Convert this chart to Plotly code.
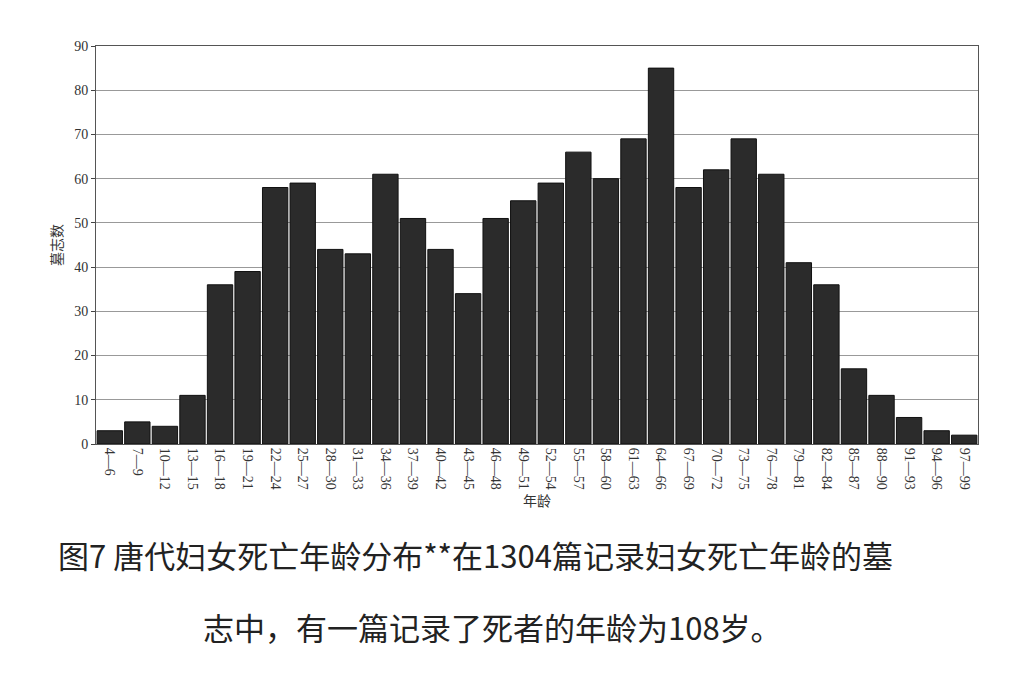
import plotly.graph_objects as go

starts = list(range(4, 98, 3))
categories = [f"{s}—{s+2}" for s in starts]
counts = [3,5,4,11,36,39,58,59,44,43,61,51,44,34,51,55,59,66,60,69,85,58,62,69,61,41,36,17,11,6,3,2]
yticks = list(range(0, 91, 10))

fig = go.Figure(go.Bar(x=categories, y=counts, marker=dict(color="#2b2b2b", line=dict(color="#111", width=1)), width=0.92))
serif = "Liberation Serif, DejaVu Serif, serif"
fig.update_layout(
    width=1024, height=694, paper_bgcolor="white", plot_bgcolor="white",
    margin=dict(l=88, r=54, t=38, b=258), showlegend=False,
    font=dict(family=serif, color="#333", size=14),
    xaxis=dict(tickangle=90, showline=True, linecolor="#555", mirror=True, ticks="",
               title=dict(text="年龄", font=dict(family="Noto Sans CJK SC", size=14), standoff=6)),
    yaxis=dict(range=[0, 90], tickvals=yticks, showgrid=True, gridcolor="#999", gridwidth=1,
               showline=True, linecolor="#555", mirror=True, ticks="outside", ticklen=4,
               title=dict(text="墓志数", font=dict(family="Noto Sans CJK SC", size=14), standoff=8)),
    annotations=[
        dict(text="图7 唐代妇女死亡年龄分布**在1304篇记录妇女死亡年龄的墓", xref="paper", yref="paper",
             x=0.43, y=-0.34, showarrow=False, font=dict(family="Noto Sans CJK SC", size=31, color="#222")),
        dict(text="志中，有一篇记录了死者的年龄为108岁。", xref="paper", yref="paper",
             x=0.45, y=-0.52, showarrow=False, font=dict(family="Noto Sans CJK SC", size=31, color="#222")),
    ],
)
fig.write_html("out.html")
